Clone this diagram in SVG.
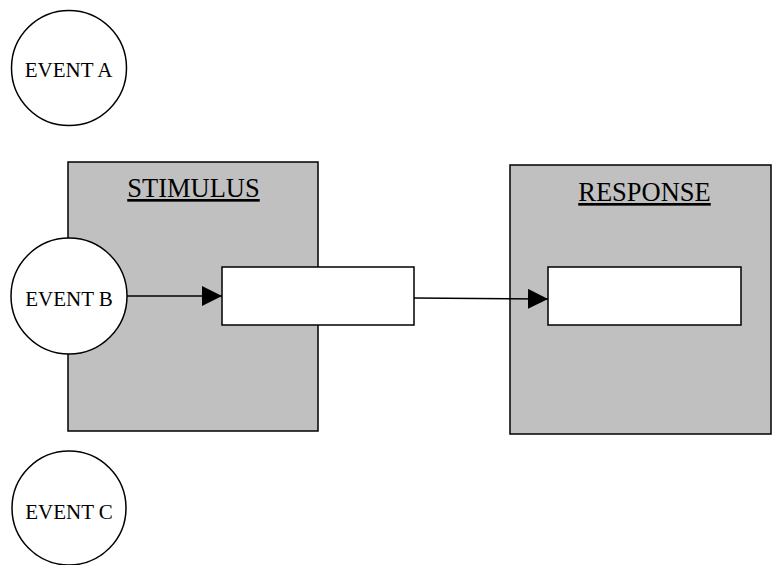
<svg xmlns="http://www.w3.org/2000/svg" width="772" height="565" viewBox="0 0 772 565">
<style>
.box{fill:#c0c0c0;stroke:#000;stroke-width:1.5}
.inner{fill:#fff;stroke:#000;stroke-width:1.5}
.ev{fill:#fff;stroke:#000;stroke-width:1.5}
.t{font-family:"Liberation Serif","Times New Roman",serif;fill:#000;text-anchor:middle}
.ttl{font-size:26.5px;text-decoration:underline}
.evt{font-size:21px}
.conn{stroke:#000;stroke-width:1.5;fill:none}
</style>
<defs>
<marker id="arr" viewBox="0 0 20 20" refX="20" refY="10" markerWidth="20" markerHeight="20" markerUnits="userSpaceOnUse" orient="auto">
<path d="M0,0 L20,10 L0,20 Z" fill="#000"/>
</marker>
</defs>
<rect width="772" height="565" fill="#fff"/>
<g id="stimulus">
<rect class="box" x="68" y="162" width="250" height="269"/>
<text class="t ttl" x="193.5" y="197">STIMULUS</text>
</g>
<g id="response">
<rect class="box" x="510" y="165" width="261" height="269"/>
<text class="t ttl" x="644.5" y="201">RESPONSE</text>
</g>
<g id="stimulus-box">
<rect class="inner" x="222" y="267" width="192" height="58"/>
</g>
<g id="response-box">
<rect class="inner" x="548" y="267" width="193" height="58"/>
</g>
<g id="event-a">
<circle class="ev" cx="69" cy="68" r="57.5"/>
<text class="t evt" x="68.5" y="77">EVENT A</text>
</g>
<g id="event-b">
<circle class="ev" cx="69" cy="296" r="58"/>
<text class="t evt" x="69" y="306">EVENT B</text>
</g>
<g id="event-c">
<circle class="ev" cx="69" cy="508" r="57"/>
<text class="t evt" x="69" y="519">EVENT C</text>
</g>
<g id="connectors">
<line class="conn" x1="127" y1="296" x2="222" y2="296" marker-end="url(#arr)"/>
<line class="conn" x1="414" y1="298" x2="548" y2="299" marker-end="url(#arr)"/>
</g>
</svg>
